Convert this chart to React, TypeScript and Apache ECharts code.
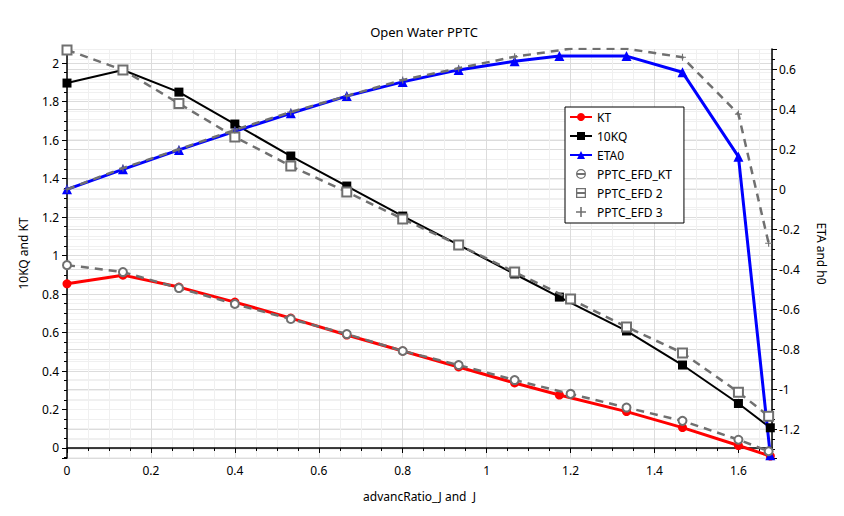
import React, { useEffect, useRef } from "react";
import * as echarts from "echarts";

// advance ratio J for the CFD points and the EFD (experiment) points
const J_CFD = [0, 0.1333, 0.2667, 0.4, 0.5333, 0.6667, 0.8, 0.9333, 1.0667, 1.1733, 1.3333, 1.4667, 1.6, 1.676];
const J_EFD = [0, 0.1333, 0.2667, 0.4, 0.5333, 0.6667, 0.8, 0.9333, 1.0667, 1.2, 1.3333, 1.4667, 1.6, 1.672];

// CFD series
const KT = [0.853, 0.898, 0.836, 0.758, 0.675, 0.587, 0.504, 0.421, 0.338, 0.275, 0.189, 0.106, 0.013, -0.042];
const KQ10 = [1.896, 1.964, 1.849, 1.683, 1.517, 1.361, 1.205, 1.055, 0.904, 0.784, 0.608, 0.431, 0.231, 0.105];
const ETA0 = [0.0, 0.1, 0.197, 0.29, 0.38, 0.466, 0.537, 0.597, 0.64, 0.666, 0.666, 0.585, 0.163, -1.33];

// EFD series
const EFD_KT = [0.95, 0.914, 0.831, 0.748, 0.67, 0.592, 0.504, 0.431, 0.353, 0.281, 0.21, 0.141, 0.043, -0.017];
const EFD_2 = [2.068, 1.964, 1.79, 1.616, 1.465, 1.33, 1.19, 1.055, 0.914, 0.774, 0.629, 0.494, 0.29, 0.165];
const EFD_3 = [0.0, 0.106, 0.2, 0.297, 0.386, 0.467, 0.547, 0.605, 0.663, 0.703, 0.703, 0.66, 0.376, -0.27];

const SERIES_NAMES = ["KT", "10KQ", "ETA0", "PPTC_EFD_KT", "PPTC_EFD 2", "PPTC_EFD 3"];

const FONT = "Noto Sans";
const GREY = "#707070";

const pair = (xs: number[], ys: number[]) => xs.map((x, i) => [x, ys[i]]);

const fmt = (v: number) => {
  const k = v / 0.2;
  if (Math.abs(k - Math.round(k)) > 1e-6) return "";
  const r = Math.round(k) * 0.2;
  return String(Math.round(r * 10) / 10);
};

const PLUS = "path://M4.2,0 L5.8,0 L5.8,4.2 L10,4.2 L10,5.8 L5.8,5.8 L5.8,10 L4.2,10 L4.2,5.8 L0,5.8 L0,4.2 L4.2,4.2 Z";
const ICON_CIRC =
  "path://M0,5 A5,5 0 1,1 10,5 A5,5 0 1,1 0,5 Z M1.3,5 A3.7,3.7 0 1,0 8.7,5 A3.7,3.7 0 1,0 1.3,5 Z M1.3,4.1 L8.7,4.1 L8.7,5.9 L1.3,5.9 Z";
const ICON_SQ =
  "path://M0,0 L10,0 L10,10 L0,10 Z M1.3,1.3 L1.3,8.7 L8.7,8.7 L8.7,1.3 Z M1.3,4.1 L8.7,4.1 L8.7,5.9 L1.3,5.9 Z";

export default function App() {
  const ref = useRef<HTMLDivElement>(null);
  useEffect(() => {
    if (!ref.current) return;
    const chart = echarts.init(ref.current, null, { renderer: "svg" });
    const axisCommon = {
      axisLine: { show: true, lineStyle: { color: "#000", width: 1.5 } },
      axisTick: { show: true, length: 5, lineStyle: { color: "#000", width: 1 } },
      minorTick: { show: true, splitNumber: 4, length: 3, lineStyle: { color: "#000", width: 1 } },
      splitLine: { show: true, lineStyle: { color: "#dcdcdc", width: 1 } },
      minorSplitLine: { show: true, lineStyle: { color: "#f0f0f0", width: 1 } },
      nameTextStyle: { color: "#000", fontFamily: FONT, fontSize: 12 },
    };
    chart.setOption({
      animation: false,
      backgroundColor: "#fff",
      title: {
        text: "Open Water PPTC",
        left: 419,
        top: 20,
        textAlign: "center",
        textStyle: { fontFamily: FONT, fontSize: 13, fontWeight: "normal", color: "#000" },
      },
      legend: {
        orient: "vertical",
        left: 565,
        top: 107,
        itemWidth: 22,
        itemHeight: 10,
        itemGap: 7,
        padding: [4, 12, 5, 4],
        borderColor: "#000",
        borderWidth: 1,
        backgroundColor: "#fff",
        textStyle: { fontFamily: FONT, fontSize: 12, color: "#000" },
        data: [
          { name: "KT" },
          { name: "10KQ" },
          { name: "ETA0" },
          { name: "PPTC_EFD_KT", icon: ICON_CIRC, itemStyle: { color: GREY, borderWidth: 0 } },
          { name: "PPTC_EFD 2", icon: ICON_SQ, itemStyle: { color: GREY, borderWidth: 0 } },
          { name: "PPTC_EFD 3", icon: PLUS, itemStyle: { color: GREY, borderWidth: 0 } },
        ],
      },
      grid: { left: 67, right: 72, top: 49, bottom: 58, containLabel: false },
      xAxis: {
        type: "value",
        min: 0,
        max: 1.68,
        interval: 0.2,
        name: "advancRatio_J and  J",
        nameLocation: "middle",
        nameGap: 32,
        ...axisCommon,
        axisLabel: { formatter: fmt, margin: 6, color: "#000", fontFamily: FONT, fontSize: 12 },
      },
      yAxis: [
        {
          type: "value",
          position: "left",
          min: -0.052,
          max: 2.073,
          splitNumber: 10,
          minInterval: 0.2,
          maxInterval: 0.2,
          name: "10KQ and KT",
          nameLocation: "middle",
          nameGap: 38,
          ...axisCommon,
          axisLabel: { formatter: fmt, margin: 8, color: "#000", fontFamily: FONT, fontSize: 12 },
        },
        {
          type: "value",
          position: "right",
          min: -1.3435,
          max: 0.7015,
          splitNumber: 10,
          minInterval: 0.2,
          maxInterval: 0.2,
          name: "ETA and h0",
          nameLocation: "middle",
          nameRotate: -90,
          nameGap: 43,
          ...axisCommon,
          axisLabel: { formatter: fmt, margin: 7, color: "#000", fontFamily: FONT, fontSize: 12 },
        },
      ],
      series: [
        {
          name: SERIES_NAMES[0],
          type: "line",
          yAxisIndex: 0,
          data: pair(J_CFD, KT),
          color: "#ff0000",
          lineStyle: { width: 3, color: "#ff0000" },
          symbol: "circle",
          symbolSize: 9,
          showAllSymbol: true,
          z: 3,
        },
        {
          name: SERIES_NAMES[1],
          type: "line",
          yAxisIndex: 0,
          data: pair(J_CFD, KQ10),
          color: "#000000",
          lineStyle: { width: 2, color: "#000" },
          symbol: "rect",
          symbolSize: 9,
          showAllSymbol: true,
          z: 3,
        },
        {
          name: SERIES_NAMES[2],
          type: "line",
          yAxisIndex: 1,
          data: pair(J_CFD, ETA0),
          color: "#0000ff",
          lineStyle: { width: 3, color: "#0000ff" },
          symbol: "triangle",
          symbolSize: 10,
          showAllSymbol: true,
          z: 3,
        },
        {
          name: SERIES_NAMES[3],
          type: "line",
          yAxisIndex: 0,
          data: pair(J_EFD, EFD_KT),
          color: GREY,
          lineStyle: { width: 2.5, color: GREY, type: [8, 6] },
          symbol: "emptyCircle",
          symbolSize: 8,
          itemStyle: { color: GREY, borderColor: GREY, borderWidth: 1 },
          showAllSymbol: true,
          z: 4,
        },
        {
          name: SERIES_NAMES[4],
          type: "line",
          yAxisIndex: 0,
          data: pair(J_EFD, EFD_2),
          color: GREY,
          lineStyle: { width: 2.5, color: GREY, type: [8, 6] },
          symbol: "emptyRect",
          symbolSize: 9,
          itemStyle: { color: GREY, borderColor: GREY, borderWidth: 1 },
          showAllSymbol: true,
          z: 4,
        },
        {
          name: SERIES_NAMES[5],
          type: "line",
          yAxisIndex: 1,
          data: pair(J_EFD, EFD_3),
          color: GREY,
          lineStyle: { width: 2.5, color: GREY, type: [8, 6] },
          symbol: PLUS,
          symbolSize: 7,
          itemStyle: { color: GREY },
          showAllSymbol: true,
          z: 4,
        },
      ],
    });
    return () => chart.dispose();
  }, []);
  return <div ref={ref} style={{ width: 844, height: 516, position: "absolute", left: 0, top: 0 }} />;
}
